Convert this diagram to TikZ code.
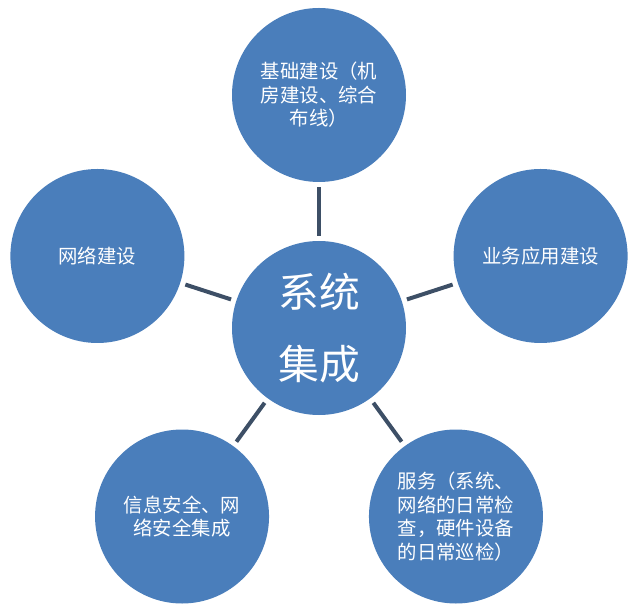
\documentclass[tikz,border=0pt]{standalone}
\usepackage{fontspec}
\newfontfamily\cjk{Noto Sans CJK SC}
\usetikzlibrary{positioning}

\begin{document}
\begin{tikzpicture}[
    ball/.style={circle,fill=ballblue,draw=none,minimum size=4.35cm,
    inner sep=0pt,text=white,align=center},
    small/.style={font=\cjk\fontsize{13.8}{16.7}\selectfont},
    link/.style={line width=.1cm,draw=linkgray,shorten >=.13cm,shorten <=.13cm}]
  \definecolor{ballblue}{HTML}{4A7EBB}
  \definecolor{linkgray}{HTML}{3D4F66}

  \useasboundingbox (-7.975,-7.05) rectangle (8.025,8.2);

  \node[ball,font=\cjk\fontsize{29}{51}\selectfont] (C) at (0,0) {系统\\集成};

  \node[ball,small] (T) at (90:5.825) {基础建设（机\\房建设、综合\\布线）};
  \node[ball,small] (L) at (162:5.825) {网络建设};
  \node[ball,small] (R) at (18:5.825) {业务应用建设};
  \node[ball,small] (BL) at (234:5.825) {信息安全、网\\络安全集成};
  \node[ball,small,align=left] (BR) at (306:5.825) {服务（系统、\\网络的日常检\\查，硬件设备\\的日常巡检）};

  % spokes
  \draw[link] (C) -- (T);
  \draw[link] (C) -- (L);
  \draw[link] (C) -- (R);
  \draw[link] (C) -- (BL);
  \draw[link] (C) -- (BR);

\end{tikzpicture}
\end{document}
